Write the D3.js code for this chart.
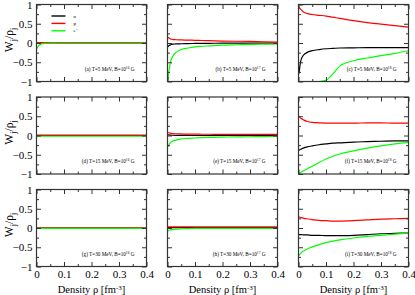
<!DOCTYPE html>
<html lang="en">
<head>
<meta charset="utf-8">
<title>W_j / rho_j vs density</title>
<script src="https://cdnjs.cloudflare.com/ajax/libs/d3/7.8.5/d3.min.js"></script>
<style>
  body { margin: 0; background: #fff; }
  svg text { font-family: "Liberation Serif", "Times New Roman", "DejaVu Serif", serif; fill: #000; }
</style>
</head>
<body>
<svg id="chart" width="415" height="295" font-family="Liberation Serif, serif"></svg>
<script>
// density grid shared by all panels [fm^-3]
const densities = [0.002, 0.005, 0.01, 0.02, 0.03, 0.05, 0.075, 0.1, 0.125, 0.15, 0.2, 0.25, 0.3, 0.35, 0.4];

const panelTags = ['a', 'b', 'c', 'd', 'e', 'f', 'g', 'h', 'i'];
const temperatures = [5, 5, 5, 15, 15, 15, 30, 30, 30];
const fieldExp = [16, 17, 18, 16, 17, 18, 16, 17, 18];

const species = ['n', 'p', 'e\u207B'];
const speciesColors = ['#000000', '#ff0000', '#00ff00'];

// neutron W/rho, one row per panel (a..i)
const neutronW = [
  [0, 0, 0, 0, 0, 0, 0, 0, 0, 0, 0, 0, 0, 0, 0],
  [-0.1, -0.07, -0.05, -0.03, -0.025, -0.02, -0.015, -0.012, -0.01, -0.008, -0.005, -0.004, -0.003, -0.002, 0],
  [-0.8, -0.6, -0.42, -0.3, -0.25, -0.2, -0.17, -0.15, -0.14, -0.13, -0.125, -0.12, -0.12, -0.12, -0.12],
  [0, 0, 0, 0, 0, 0, 0, 0, 0, 0, 0, 0, 0, 0, 0],
  [0.02, 0.015, 0.01, 0.006, 0.004, 0.002, 0.001, 0, 0, 0, 0, 0, 0, 0, 0],
  [-0.38, -0.37, -0.35, -0.32, -0.3, -0.27, -0.24, -0.22, -0.2, -0.19, -0.17, -0.16, -0.15, -0.14, -0.14],
  [0, 0, 0, 0, 0, 0, 0, 0, 0, 0, 0, 0, 0, 0, 0],
  [0.01, 0.01, 0.01, 0.01, 0.01, 0.01, 0.01, 0.01, 0.01, 0.01, 0.01, 0.01, 0.01, 0.01, 0.01],
  [-0.17, -0.17, -0.17, -0.18, -0.18, -0.19, -0.19, -0.2, -0.2, -0.2, -0.19, -0.17, -0.15, -0.14, -0.13]
];

// proton W/rho
const protonW = [
  [0.01, 0.01, 0.01, 0.01, 0.01, 0.01, 0.01, 0.01, 0.01, 0.01, 0.01, 0.01, 0.01, 0.01, 0.01],
  [0.15, 0.13, 0.11, 0.09, 0.085, 0.08, 0.075, 0.07, 0.065, 0.06, 0.05, 0.045, 0.04, 0.03, 0.025],
  [0.93, 0.9, 0.86, 0.8, 0.77, 0.74, 0.72, 0.7, 0.67, 0.64, 0.58, 0.53, 0.49, 0.45, 0.41],
  [0.01, 0.01, 0.01, 0.01, 0.01, 0.01, 0.01, 0.01, 0.01, 0.01, 0.01, 0.01, 0.01, 0.01, 0.01],
  [0.08, 0.07, 0.06, 0.05, 0.045, 0.04, 0.035, 0.035, 0.033, 0.032, 0.03, 0.03, 0.03, 0.03, 0.03],
  [0.5, 0.47, 0.44, 0.4, 0.37, 0.34, 0.33, 0.32, 0.32, 0.32, 0.32, 0.33, 0.33, 0.32, 0.32],
  [0.005, 0.005, 0.005, 0.005, 0.005, 0.005, 0.005, 0.005, 0.005, 0.005, 0.005, 0.005, 0.005, 0.005, 0.005],
  [0.03, 0.03, 0.03, 0.03, 0.03, 0.03, 0.03, 0.03, 0.03, 0.03, 0.03, 0.03, 0.03, 0.03, 0.03],
  [0.29, 0.28, 0.27, 0.25, 0.24, 0.22, 0.2, 0.19, 0.18, 0.18, 0.19, 0.21, 0.23, 0.24, 0.25]
];

// electron W/rho
const electronW = [
  [-0.15, -0.1, -0.05, -0.02, -0.01, -0.005, 0, 0, 0, 0, 0, 0, 0, 0, 0],
  [-0.95, -0.75, -0.52, -0.33, -0.25, -0.17, -0.13, -0.1, -0.085, -0.075, -0.055, -0.045, -0.035, -0.03, -0.025],
  [-1, -1, -1, -1, -1, -1, -1, -0.97, -0.8, -0.6, -0.46, -0.39, -0.33, -0.27, -0.2],
  [-0.03, -0.025, -0.02, -0.02, -0.02, -0.02, -0.02, -0.02, -0.02, -0.02, -0.02, -0.02, -0.02, -0.02, -0.02],
  [-0.29, -0.24, -0.19, -0.14, -0.12, -0.09, -0.075, -0.065, -0.055, -0.05, -0.042, -0.036, -0.032, -0.028, -0.025],
  [-0.98, -0.97, -0.95, -0.91, -0.87, -0.8, -0.7, -0.61, -0.54, -0.48, -0.4, -0.33, -0.27, -0.22, -0.18],
  [-0.01, -0.01, -0.01, -0.01, -0.01, -0.01, -0.01, -0.01, -0.01, -0.01, -0.01, -0.01, -0.01, -0.01, -0.01],
  [-0.08, -0.06, -0.05, -0.04, -0.03, -0.02, -0.015, -0.01, -0.01, -0.01, -0.01, -0.01, -0.01, -0.01, -0.01],
  [-0.71, -0.68, -0.64, -0.59, -0.55, -0.49, -0.43, -0.38, -0.34, -0.31, -0.26, -0.22, -0.19, -0.16, -0.13]
];

const xTicks = [0, 0.1, 0.2, 0.3, 0.4];
const yTicks = [-1, -0.5, 0, 0.5, 1];

const colLeft = [36.5, 167.5, 298.5];
const rowTop = [4.5, 97, 189.5];
const panelW = 110;
const panelH = 77;
const serif = '"Liberation Serif", "Times New Roman", serif';

const svg = d3.select('#chart');
const line = d3.line().curve(d3.curveMonotoneX);

const x = d3.scaleLinear().domain([0, 0.4]).range([0, panelW]);
const y = d3.scaleLinear().domain([-1, 1]).range([panelH, 0]);

const seriesSets = [neutronW, protonW, electronW];

panelTags.forEach((tag, i) => {
  const col = i % 3;
  const row = Math.floor(i / 3);
  const g = svg.append('g')
    .attr('transform', `translate(${colLeft[col]},${rowTop[row]})`);

  g.append('clipPath').attr('id', 'clip' + i)
    .append('rect').attr('width', panelW).attr('height', panelH);

  // curves
  const curves = g.append('g').attr('clip-path', `url(#clip${i})`);
  seriesSets.forEach((set, s) => {
    curves.append('path')
      .attr('d', line(densities.map((d, k) => [x(d), y(set[i][k])])))
      .attr('fill', 'none')
      .attr('stroke', speciesColors[s])
      .attr('stroke-width', 1.2);
  });

  // ticks on all four sides, pointing inwards
  const fmt = d => d === 0 ? '0' : d3.format('')(d);
  const bottom = d3.axisBottom(x).tickValues(xTicks).tickSize(-4.5).tickPadding(4)
    .tickFormat(row === 2 ? fmt : '');
  const top = d3.axisTop(x).tickValues(xTicks).tickSize(-4.5).tickFormat('');
  const left = d3.axisLeft(y).tickValues(yTicks).tickSize(-4.5).tickPadding(4)
    .tickFormat(col === 0 ? fmt : '');
  const right = d3.axisRight(y).tickValues(yTicks).tickSize(-4.5).tickFormat('');
  const xMinor = [0.05, 0.15, 0.25, 0.35];
  const yMinor = [-0.75, -0.25, 0.25, 0.75];

  const axes = [
    g.append('g').attr('transform', `translate(0,${panelH})`).call(bottom),
    g.append('g').call(top),
    g.append('g').call(left),
    g.append('g').attr('transform', `translate(${panelW},0)`).call(right),
    g.append('g').attr('transform', `translate(0,${panelH})`)
      .call(d3.axisBottom(x).tickValues(xMinor).tickSize(-2.5).tickFormat('')),
    g.append('g').call(d3.axisTop(x).tickValues(xMinor).tickSize(-2.5).tickFormat('')),
    g.append('g').call(d3.axisLeft(y).tickValues(yMinor).tickSize(-2.5).tickFormat('')),
    g.append('g').attr('transform', `translate(${panelW},0)`)
      .call(d3.axisRight(y).tickValues(yMinor).tickSize(-2.5).tickFormat(''))
  ];
  axes.forEach(a => {
    a.attr('font-family', serif);
    a.select('.domain').remove();
    a.selectAll('line').attr('stroke', '#333');
    a.selectAll('text').attr('font-size', 11).attr('font-family', serif);
  });

  g.append('rect')
    .attr('width', panelW).attr('height', panelH)
    .attr('fill', 'none').attr('stroke', '#333').attr('stroke-width', 1.2);

  // panel annotation
  const note = g.append('text')
    .attr('x', panelW - 12).attr('y', y(-0.72))
    .attr('text-anchor', 'end').attr('font-size', 5.2).attr('font-family', serif);
  note.append('tspan').text(`(${tag}) T=${temperatures[i]} MeV, B=10`);
  note.append('tspan').attr('font-size', 3.6).attr('dy', -2).text(fieldExp[i]);
  note.append('tspan').attr('dy', 2).text(' G');

  // legend only in panel (a)
  if (i === 0) {
    species.forEach((name, s) => {
      const ly = 11.5 + s * 7.4;
      g.append('line')
        .attr('x1', 15).attr('x2', 29).attr('y1', ly).attr('y2', ly)
        .attr('stroke', speciesColors[s]).attr('stroke-width', 1.4);
      g.append('text').attr('x', 37).attr('y', ly + 1.5)
        .attr('font-size', 5).attr('font-family', serif).text(name);
    });
  }

  // y label on first column
  if (col === 0) {
    const lab = svg.append('text')
      .attr('transform', `translate(13,${rowTop[row] + panelH / 2 - 3}) rotate(-90)`)
      .attr('text-anchor', 'middle').attr('font-size', 11.5).attr('font-family', serif);
    lab.append('tspan').text('W');
    lab.append('tspan').attr('font-size', 8).attr('dy', 2.5).text('j');
    lab.append('tspan').attr('dy', -2.5).text('/\u03C1');
    lab.append('tspan').attr('font-size', 8).attr('dy', 2.5).text('j');
  }

  // x label on bottom row
  if (row === 2) {
    const lab = svg.append('text')
      .attr('x', colLeft[col] + panelW / 2).attr('y', 293)
      .attr('text-anchor', 'middle').attr('font-size', 10.5).attr('font-family', serif);
    lab.append('tspan').text('Density \u03C1 [fm');
    lab.append('tspan').attr('font-size', 7).attr('dy', -3.5).text('-3');
    lab.append('tspan').attr('dy', 3.5).text(']');
  }
});
</script>
</body>
</html>
